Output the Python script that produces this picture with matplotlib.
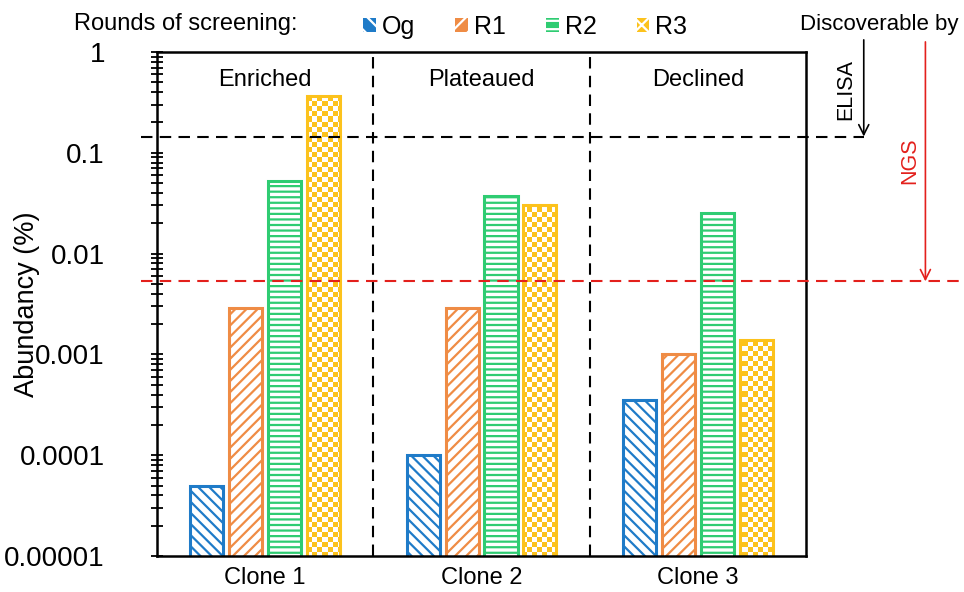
import numpy as np
import matplotlib
matplotlib.use("Agg")
import matplotlib.pyplot as plt
from matplotlib.colors import ListedColormap
from matplotlib.patches import Patch
from matplotlib.transforms import blended_transform_factory

plt.rcParams['font.family'] = ['Liberation Sans', 'DejaVu Sans']
plt.rcParams['hatch.linewidth'] = 1.6

# abundance (%) per clone and screening round
clones = ['Clone 1', 'Clone 2', 'Clone 3']
trends = ['Enriched', 'Plateaued', 'Declined']
rounds = ['Og', 'R1', 'R2', 'R3']
og = [5.0e-5, 1.0e-4, 3.5e-4]
r1 = [2.9e-3, 2.9e-3, 1.0e-3]
r2 = [0.053, 0.0375, 0.025]
r3 = [0.37, 0.030, 0.0014]

# detection limits
elisa_limit = 0.145
ngs_limit = 0.0053

ytick_values = [1e-5, 1e-4, 1e-3, 1e-2, 1e-1, 1]
ytick_labels = ['0.00001', '0.0001', '0.001', '0.01', '0.1', '1']

colors = ['#1f7bc8', '#ef8c45', '#2fcc72', '#fcc21c']
hatches = ['\\\\\\', '///', '---', None]
legend_hatches = ['\\\\', '//', '--', 'xx']
red = '#e3201c'

fig = plt.figure(figsize=(9.64, 5.92), dpi=100)
ax = fig.add_axes([0.1629, 0.0608, 0.6732, 0.8514])
ax.set_yscale('log')
ax.set_xlim(-0.5, 2.5)
ax.set_ylim(1e-5, 1)

x = np.arange(len(clones))
width = 0.153
step = 0.18
series = [og, r1, r2, r3]

for i, vals in enumerate(series):
    pos = x + (i - 1.5) * step
    if hatches[i] is not None:
        ax.bar(pos, vals, width, facecolor='white', edgecolor=colors[i],
               hatch=hatches[i], linewidth=2.2, zorder=2)
    else:
        # checkerboard fill, clipped to each bar
        bars = ax.bar(pos, vals, width, facecolor='none', edgecolor=colors[i],
                      linewidth=2.2, zorder=2)
        bb = ax.get_window_extent()
        w, h = int(round(bb.width)), int(round(bb.height))
        yy, xx = np.mgrid[0:h, 0:w]
        checker = ((xx // 5) + (yy // 5)) % 2
        cmap = ListedColormap(['white', colors[i]])
        for b in bars:
            im = ax.imshow(checker, extent=(0, 1, 0, 1), transform=ax.transAxes,
                           cmap=cmap, interpolation='nearest', aspect='auto',
                           zorder=1.5)
            im.set_clip_path(b)

ax.set_xlim(-0.5, 2.5)
ax.set_ylim(1e-5, 1)

# group dividers and trend labels
for xd in [0.5, 1.5]:
    ax.axvline(xd, color='black', lw=1.5, linestyle=(0, (5.5, 3.5)), zorder=3)
for xi, t in zip(x, trends):
    ax.text(xi, 0.945, t, transform=blended_transform_factory(ax.transData, ax.transAxes),
            ha='center', va='center', fontsize=17)

# detection thresholds
tr = blended_transform_factory(ax.transAxes, ax.transData)
ax.plot([-0.025, 1.089], [elisa_limit, elisa_limit], color='black', lw=1.5,
        linestyle=(0, (5.5, 3.5)), transform=tr, clip_on=False, zorder=3)
ax.plot([-0.025, 1.25], [ngs_limit, ngs_limit], color=red, lw=1.5,
        linestyle=(0, (5.5, 3.5)), transform=tr, clip_on=False, zorder=3)

ax.annotate('', xy=(1.089, elisa_limit), xycoords=('axes fraction', 'data'),
            xytext=(1.089, 1.024), textcoords='axes fraction',
            arrowprops=dict(arrowstyle='->', color='black', lw=1.2,
                            shrinkA=0, shrinkB=0, mutation_scale=18),
            annotation_clip=False)
ax.annotate('', xy=(1.184, ngs_limit), xycoords=('axes fraction', 'data'),
            xytext=(1.184, 1.02), textcoords='axes fraction',
            arrowprops=dict(arrowstyle='->', color=red, lw=1.2,
                            shrinkA=0, shrinkB=0, mutation_scale=18),
            annotation_clip=False)
ax.text(1.062, 0.925, 'ELISA', transform=ax.transAxes, rotation=90,
        ha='center', va='center', fontsize=15.5)
ax.text(1.160, 0.784, 'NGS', transform=ax.transAxes, rotation=90,
        ha='center', va='center', fontsize=15.5, color=red)

# axes styling
for s in ax.spines.values():
    s.set_linewidth(1.8)
ax.set_yticks(ytick_values)
ax.set_yticklabels(ytick_labels)
ax.yaxis.set_minor_locator(matplotlib.ticker.LogLocator(base=10, subs=np.arange(2, 10), numticks=20))
ax.yaxis.set_minor_formatter(matplotlib.ticker.NullFormatter())
ax.tick_params(axis='y', which='both', direction='inout', length=9, width=1.3, labelsize=20, pad=33)
ax.set_xticks(x)
ax.set_xticklabels(clones)
ax.tick_params(axis='x', length=0, labelsize=17, pad=8)
ax.set_ylabel('Abundancy (%)', fontsize=19.5)
ax.yaxis.set_label_coords(-0.18, 0.5)

# header: legend and captions
fig.text(0.077, 0.959, 'Rounds of screening:', fontsize=17, va='center', ha='left')
fig.text(0.912, 0.959, 'Discoverable by', fontsize=16, va='center', ha='center')
handles = [Patch(facecolor=c, edgecolor='white', hatch=h, linewidth=0)
           for c, h in zip(colors, legend_hatches)]
fig.legend(handles, rounds, loc='center', bbox_to_anchor=(0.545, 0.955), ncol=4,
           frameon=False, fontsize=18, handlelength=0.5, handleheight=0.5,
           handletextpad=0.25, columnspacing=1.6)

fig.savefig('out.png', dpi=100)
